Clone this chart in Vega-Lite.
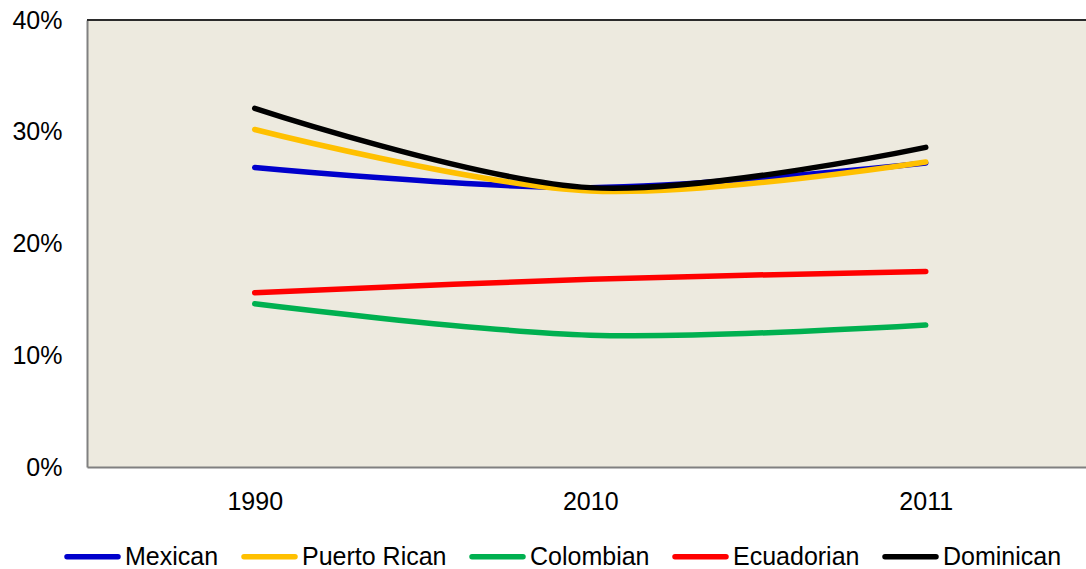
{
  "$schema": "https://vega.github.io/schema/vega-lite/v6.json",
  "autosize": {"type": "none"},
  "padding": {"left": 87, "top": 20, "right": 0, "bottom": 102},
  "width": 999,
  "height": 447,
  "background": "white",
  "config": {
    "view": {"fill": "#EDEADF", "stroke": null},
    "font": "Liberation Sans",
    "axis": {"labelFont": "Liberation Sans", "labelFontSize": 25, "labelColor": "#000000", "ticks": false, "grid": false, "domainColor": "#808080", "domainWidth": 2, "title": null},
    "legend": {"labelFont": "Liberation Sans", "labelFontSize": 25, "labelColor": "#000000"}
  },
  "data": {
    "values": [
      {"year": "1990", "group": "Mexican", "share": 0.268},
      {"year": "2010", "group": "Mexican", "share": 0.250},
      {"year": "2011", "group": "Mexican", "share": 0.272},
      {"year": "1990", "group": "Puerto Rican", "share": 0.302},
      {"year": "2010", "group": "Puerto Rican", "share": 0.247},
      {"year": "2011", "group": "Puerto Rican", "share": 0.273},
      {"year": "1990", "group": "Colombian", "share": 0.146},
      {"year": "2010", "group": "Colombian", "share": 0.118},
      {"year": "2011", "group": "Colombian", "share": 0.127},
      {"year": "1990", "group": "Ecuadorian", "share": 0.156},
      {"year": "2010", "group": "Ecuadorian", "share": 0.168},
      {"year": "2011", "group": "Ecuadorian", "share": 0.175},
      {"year": "1990", "group": "Dominican", "share": 0.321},
      {"year": "2010", "group": "Dominican", "share": 0.250},
      {"year": "2011", "group": "Dominican", "share": 0.286}
    ]
  },
  "layer": [
    {
      "mark": {"type": "rule", "color": "#2b2b2b", "strokeWidth": 2},
      "encoding": {"y": {"datum": 0.4, "type": "quantitative"}}
    },
    {
      "mark": {"type": "line", "interpolate": "catmull-rom", "strokeWidth": 5.5, "strokeCap": "round", "clip": false},
      "encoding": {
        "x": {"field": "year", "type": "ordinal", "sort": ["1990", "2010", "2011"],
              "scale": {"type": "point", "padding": 0.4888, "align": 0.5114},
              "axis": {"labelAngle": 0, "labelPadding": 22}},
        "y": {"field": "share", "type": "quantitative",
              "scale": {"domain": [0, 0.4], "nice": false, "zero": true},
              "axis": {"values": [0, 0.1, 0.2, 0.3, 0.4], "format": ".0%", "labelPadding": 25}},
        "color": {"field": "group", "type": "nominal",
                  "scale": {"domain": ["Mexican", "Puerto Rican", "Colombian", "Ecuadorian", "Dominican"],
                            "range": ["#0000CC", "#FFC000", "#00B050", "#FF0000", "#000000"]},
                  "legend": {"title": null, "orient": "none", "legendX": -23, "legendY": 508, "direction": "horizontal", "columns": 5, "columnPadding": 14, "labelOffset": 4, "symbolType": "stroke", "symbolStrokeWidth": 5.5, "symbolSize": 2601,
                             "encode": {"symbols": {"update": {"strokeCap": {"value": "round"}}}}}}
      }
    }
  ]
}
